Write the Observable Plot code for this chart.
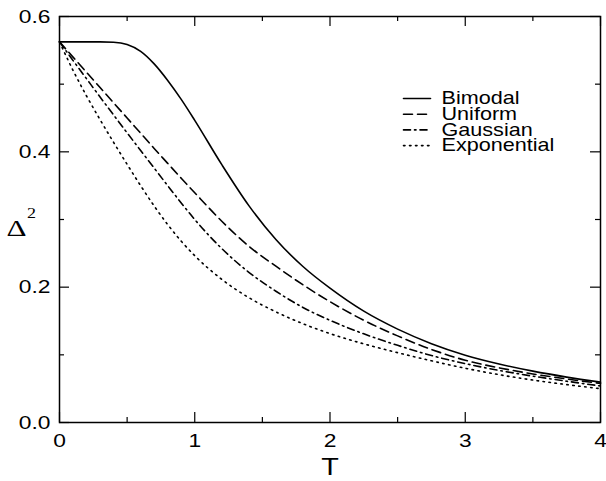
<!DOCTYPE html>
<html><head><meta charset="utf-8">
<script src="https://cdn.jsdelivr.net/npm/d3@7"></script>
<script src="https://cdn.jsdelivr.net/npm/@observablehq/plot@0.6"></script>
<style>body{margin:0;background:#fff}</style>
</head><body><div id="chart"></div>
<script>
const T = [0,0.1,0.2,0.3,0.4,0.5,0.6,0.7,0.8,0.9,1.0,1.2,1.4,1.6,1.8,2.0,2.25,2.5,2.75,3.0,3.25,3.5,3.75,4.0];
const bimodal = [0.5625,0.5625,0.5625,0.5625,0.562,0.5585,0.5485,0.530,0.5055,0.4775,0.4465,0.381,0.3205,0.2705,0.2305,0.1985,0.1645,0.138,0.1165,0.0995,0.0865,0.0759,0.0671,0.0596];
const uniform = [0.5625,0.540,0.5175,0.495,0.4725,0.450,0.4275,0.405,0.383,0.361,0.3395,0.2975,0.2605,0.231,0.2035,0.1785,0.151,0.128,0.108,0.092,0.0808,0.0718,0.0643,0.0578];
const gaussian = [0.5625,0.535,0.508,0.481,0.4545,0.428,0.402,0.376,0.350,0.3245,0.300,0.257,0.222,0.194,0.170,0.151,0.131,0.114,0.099,0.087,0.077,0.0685,0.061,0.054];
const exponential = [0.5625,0.5205,0.4825,0.4475,0.414,0.3815,0.350,0.320,0.2925,0.268,0.2465,0.2115,0.1845,0.1635,0.146,0.1314,0.1162,0.1032,0.0912,0.0802,0.0707,0.0627,0.056,0.050];
const seriesNames = ["Bimodal","Uniform","Gaussian","Exponential"];
const xMajor = [0,1,2,3,4];
const xMinor = [0.5,1.5,2.5,3.5];
const yMajor = [0,0.2,0.4,0.6];
const yMinor = [0.1,0.3,0.5];
const xTickLabels = ["0","1","2","3","4"];
const yTickLabels = ["0.0","0.2","0.4","0.6"];

const values = [bimodal, uniform, gaussian, exponential];
const dashes = [null, "9,5", "7,4,1.5,4", "1.5,4.5"];
const series = seriesNames.map((name, k) => ({name, values: values[k], dash: dashes[k]}));

const W = 606, H = 481, mt = 16, mr = 6, mb = 59, ml = 59;
const ih = H - mt - mb, iw = W - ml - mr;
const lineShape = {draw(context, l) { context.moveTo(0, 0); context.lineTo(0, -l); }};

const marks = [
  Plot.frame({stroke: "black", strokeWidth: 1.5}),
  Plot.ruleX(xMajor, {x: d => d, insetTop: ih - 10, strokeWidth: 1.2}),
  Plot.ruleX(xMajor, {x: d => d, insetBottom: ih - 10, strokeWidth: 1.2}),
  Plot.ruleX(xMinor, {x: d => d, insetTop: ih - 5, strokeWidth: 1.2}),
  Plot.ruleX(xMinor, {x: d => d, insetBottom: ih - 5, strokeWidth: 1.2}),
  Plot.ruleY(yMajor, {y: d => d, insetRight: iw - 10, strokeWidth: 1.2}),
  Plot.ruleY(yMajor, {y: d => d, insetLeft: iw - 10, strokeWidth: 1.2}),
  Plot.ruleY(yMinor, {y: d => d, insetRight: iw - 5, strokeWidth: 1.2}),
  Plot.ruleY(yMinor, {y: d => d, insetLeft: iw - 5, strokeWidth: 1.2}),
  Plot.text(xMajor, {x: d => d, text: (d, i) => xTickLabels[i], frameAnchor: "bottom", textAnchor: "middle", lineAnchor: "middle", dy: 18, fontSize: 19}),
  Plot.text(yMajor, {y: d => d, text: (d, i) => yTickLabels[i], frameAnchor: "left", textAnchor: "end", lineAnchor: "middle", dx: -9, fontSize: 19}),
  Plot.text(["T"], {frameAnchor: "bottom", textAnchor: "middle", lineAnchor: "middle", dy: 45, fontSize: 24}),
  Plot.text(["Δ"], {frameAnchor: "left", textAnchor: "middle", lineAnchor: "middle", dx: -43, dy: 9, fontSize: 24, fontFamily: "Liberation Serif"}),
  Plot.text(["2"], {frameAnchor: "left", textAnchor: "middle", lineAnchor: "middle", dx: -28, dy: -6, fontSize: 15, fontFamily: "Liberation Serif"})
];

series.forEach((s, k) => {
  const rows = T.map((t, i) => ({T: t, v: s.values[i]}));
  marks.push(Plot.line(rows, {x: "T", y: "v", curve: "monotone-x", stroke: "black", strokeWidth: 1.6, strokeDasharray: s.dash}));
  marks.push(Plot.vector([s.name], {frameAnchor: "top-left", dx: 344, dy: 82 + k * 15.7, length: 27, rotate: 90, anchor: "start", shape: lineShape, stroke: "black", strokeWidth: 1.6, strokeDasharray: s.dash}));
  marks.push(Plot.text([s.name], {frameAnchor: "top-left", textAnchor: "start", lineAnchor: "middle", dx: 382, dy: 82 + k * 15.7, fontSize: 18, text: d => d}));
});

const chart = Plot.plot({
  width: W, height: H,
  marginTop: mt, marginRight: mr, marginBottom: mb, marginLeft: ml,
  x: {domain: [0, 4], axis: null},
  y: {domain: [0, 0.6], axis: null},
  style: {fontFamily: "Liberation Sans", background: "white", color: "black"},
  marks
});
// the reference figure is horizontally stretched: widen the glyphs about their anchor
chart.querySelectorAll("text").forEach(t => {
  const tr = t.getAttribute("transform") || "";
  const x = parseFloat(t.getAttribute("x") || "0") || 0;
  const s = t.textContent === "Δ" ? 1.3 : 1.2;
  t.setAttribute("transform", `${tr} translate(${x},0) scale(${s},1) translate(${-x},0)`);
});
document.getElementById("chart").appendChild(chart);
</script>
</body></html>
